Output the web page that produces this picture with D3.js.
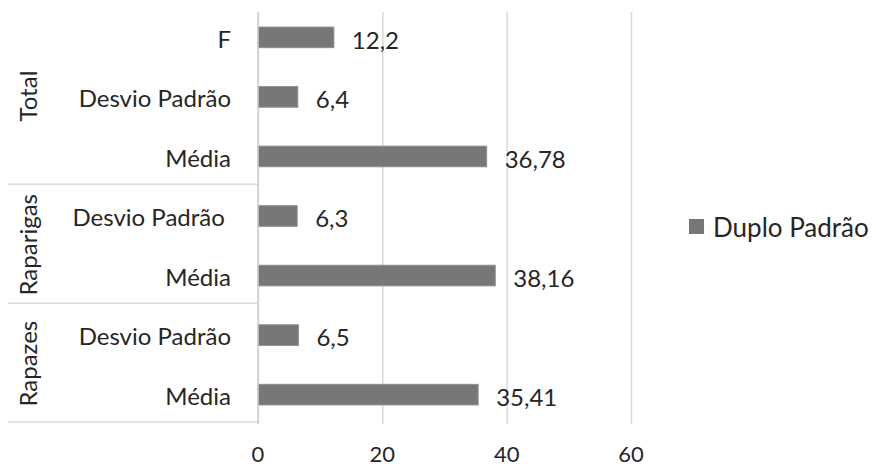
<!DOCTYPE html>
<html>
<head>
<meta charset="utf-8">
<script src="https://cdn.jsdelivr.net/npm/d3@7"></script>
<style>
  body { margin: 0; background: #fff; }
  text { font-family: Lato, "Open Sans", sans-serif; fill: #262626; white-space: pre; }
</style>
</head>
<body>
<div id="chart"></div>
<script>
// chart values, top row first
var groups = ["Total", "Total", "Total", "Raparigas", "Raparigas", "Rapazes", "Rapazes"]
var categories = ["F", "Desvio Padrão", "Média", "Desvio Padrão ", "Média", "Desvio Padrão", "Média"]
var values = [12.2, 6.4, 36.78, 6.3, 38.16, 6.5, 35.41]
var tickValues = [0, 20, 40, 60]
var seriesName = "Duplo Padrão"

var width = 876
var height = 466
var fontSize = 24

var rows = values.map(function(v, i) {
  return { key: i, group: groups[i], cat: categories[i], value: v }
})

var svg = d3.select('#chart').append('svg')
            .attr('width', width)
            .attr('height', height)

var x = d3.scaleLinear()
          .domain([0, 60])
          .range([258, 631])

var y = d3.scaleBand()
          .domain(rows.map(function(d) { return d.key }))
          .range([8, 424])
          .paddingInner(0.654)
          .paddingOuter(0.32)

var step = y.step()
var fmt = function(v) { return String(v).replace('.', ',') }

// gridlines
svg.append('g').selectAll('line')
   .data(tickValues)
   .enter().append('line')
   .attr('x1', function(d) { return x(d) + 0.5 })
   .attr('x2', function(d) { return x(d) + 0.5 })
   .attr('y1', 12)
   .attr('y2', 424)
   .attr('stroke', '#d9d9d9')
   .attr('stroke-width', 1.5)

// tick labels
svg.append('g').selectAll('text')
   .data(tickValues)
   .enter().append('text')
   .attr('x', function(d) { return x(d) })
   .attr('y', 455)
   .attr('dy', '.33em')
   .attr('text-anchor', 'middle')
   .style('font-size', '22px')
   .text(function(d) { return d })

// group boxes on the left
var groupNames = Array.from(new Set(groups))
var groupSpans = groupNames.map(function(g) {
  var r = rows.filter(function(d) { return d.group === g })
  var top = y(r[0].key) + y.bandwidth() / 2 - step / 2
  var bottom = y(r[r.length - 1].key) + y.bandwidth() / 2 + step / 2
  return { name: g, top: Math.max(top, 8), bottom: Math.min(bottom, 424) }
})

svg.append('g').selectAll('line')
   .data(groupSpans)
   .enter().append('line')
   .attr('x1', 8)
   .attr('x2', x(0))
   .attr('y1', function(d) { return d.bottom - 2 })
   .attr('y2', function(d) { return d.bottom - 2 })
   .attr('stroke', '#d9d9d9')
   .attr('stroke-width', 1.5)

svg.append('g').selectAll('text')
   .data(groupSpans)
   .enter().append('text')
   .attr('transform', function(d) {
     return 'translate(29,' + ((d.top + d.bottom) / 2 - 1) + ') rotate(-90)'
   })
   .attr('dy', '.35em')
   .attr('text-anchor', 'middle')
   .style('font-size', fontSize + 'px')
   .text(function(d) { return d.name })

// category labels
svg.append('g').selectAll('text')
   .data(rows)
   .enter().append('text')
   .attr('x', 231)
   .attr('y', function(d) { return y(d.key) + y.bandwidth() / 2 + 2 })
   .attr('dy', '.35em')
   .attr('text-anchor', 'end')
   .style('font-size', fontSize + 'px')
   .text(function(d) { return d.cat })

// bars
svg.append('g').selectAll('rect')
   .data(rows)
   .enter().append('rect')
   .attr('x', x(0))
   .attr('y', function(d) { return y(d.key) })
   .attr('width', function(d) { return x(d.value) - x(0) })
   .attr('height', y.bandwidth())
   .attr('fill', '#77777a')
   .attr('stroke', '#8e8e90')
   .attr('stroke-width', 1)

// value labels
svg.append('g').selectAll('text')
   .data(rows)
   .enter().append('text')
   .attr('x', function(d) { return x(d.value) + 18 })
   .attr('y', function(d) { return y(d.key) + y.bandwidth() / 2 + 3 })
   .attr('dy', '.35em')
   .style('font-size', fontSize + 'px')
   .text(function(d) { return fmt(d.value) })

// axis line
svg.append('line')
   .attr('x1', x(0)).attr('x2', x(0))
   .attr('y1', 12).attr('y2', 424)
   .attr('stroke', '#d0d0d0')
   .attr('stroke-width', 1.5)

// legend
var legend = svg.append('g').attr('transform', 'translate(689,219)')
legend.append('rect')
      .attr('width', 15).attr('height', 15)
      .attr('fill', '#77777a')
legend.append('text')
      .attr('x', 24)
      .attr('y', 9)
      .attr('dy', '.35em')
      .style('font-size', '26px')
      .text(seriesName)
</script>
</body>
</html>
